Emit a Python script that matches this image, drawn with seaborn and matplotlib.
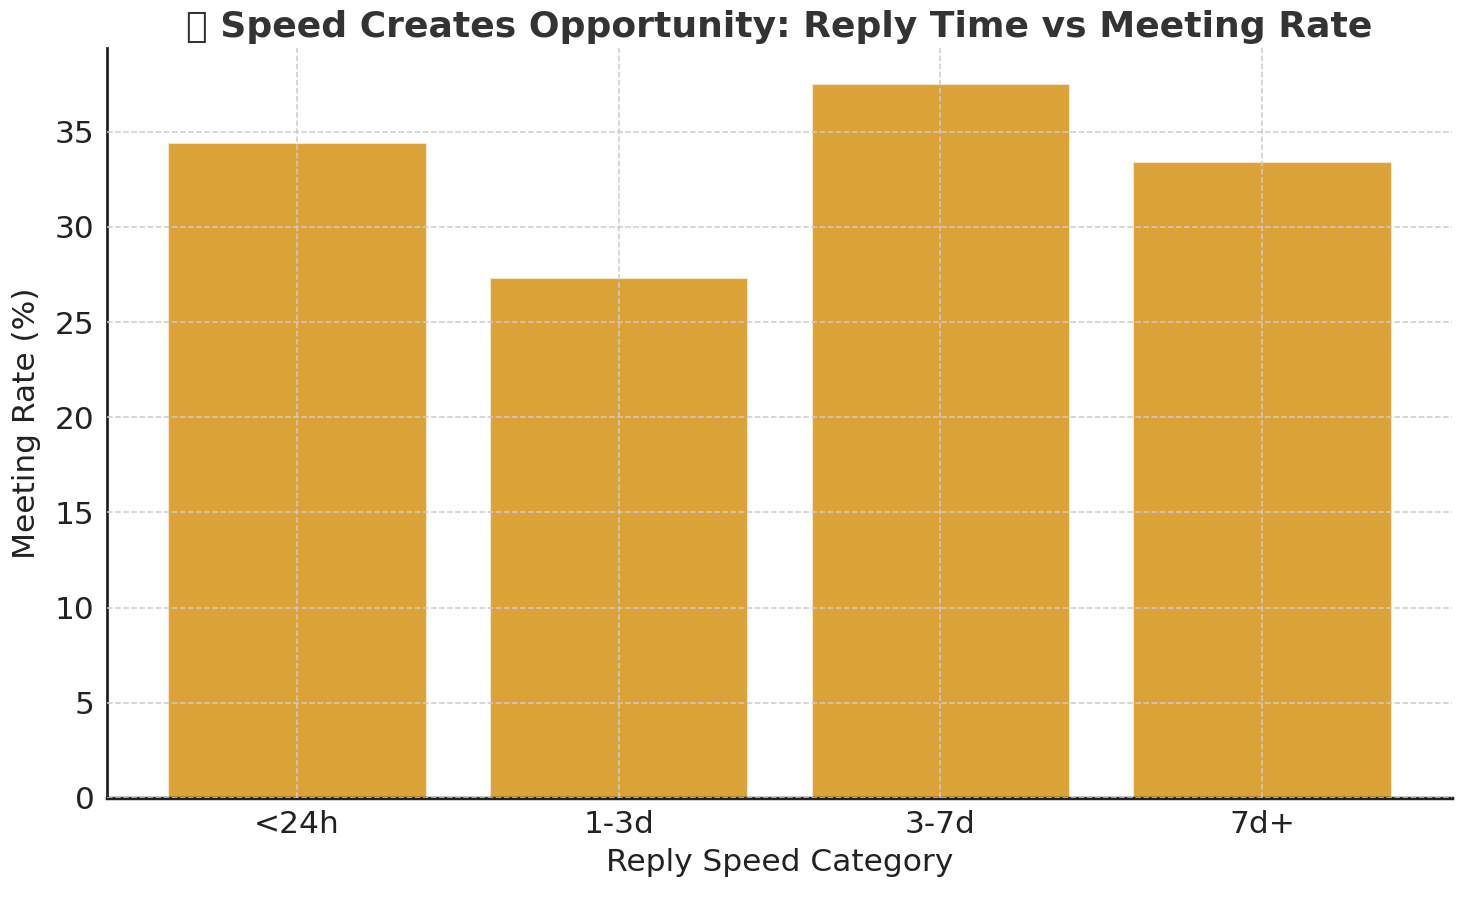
import matplotlib
matplotlib.use("Agg")
import matplotlib.pyplot as plt
import seaborn as sns
import pandas as pd

# データ
categories = ["<24h", "1-3d", "3-7d", "7d+"]
meeting_rate = [34.4, 27.3, 37.5, 33.4]

df = pd.DataFrame({"Reply Speed Category": categories, "Meeting Rate (%)": meeting_rate})

sns.set_theme(style="white")
plt.rcParams["font.family"] = ["DejaVu Sans"]

fig = plt.figure(figsize=(14.58, 9.02), dpi=100)
ax = fig.add_axes([0.0734, 0.1153, 0.9225, 0.8315])

sns.barplot(data=df, x="Reply Speed Category", y="Meeting Rate (%)",
            color="#DBA238", saturation=1, width=0.8,
            edgecolor="#f5e6c8", linewidth=0.8, ax=ax)

ax.set_xlim(-0.59, 3.59)
ax.set_ylim(0, 39.4)
ax.set_yticks([0, 5, 10, 15, 20, 25, 30, 35])

ax.grid(True, linestyle="--", color="#cccccc", linewidth=1.1)
ax.set_axisbelow(False)

for s in ["top", "right"]:
    ax.spines[s].set_visible(False)
ax.spines["left"].set_color("#222222")
ax.spines["left"].set_linewidth(2)
ax.spines["bottom"].set_color("#222222")
ax.spines["bottom"].set_linewidth(2.5)

ax.tick_params(axis="both", direction="in", length=8, width=1.5,
               labelsize=22.5, colors="#222222", pad=9)

ax.set_xlabel("Reply Speed Category", fontsize=22.5, color="#222222", labelpad=6)
ax.set_ylabel("Meeting Rate (%)", fontsize=22.5, color="#222222", labelpad=10)
ax.set_title("🚀 Speed Creates Opportunity: Reply Time vs Meeting Rate",
             fontsize=26, fontweight="bold", color="#333333", pad=8)

fig.savefig("out.png", dpi=100)
plt.close()
